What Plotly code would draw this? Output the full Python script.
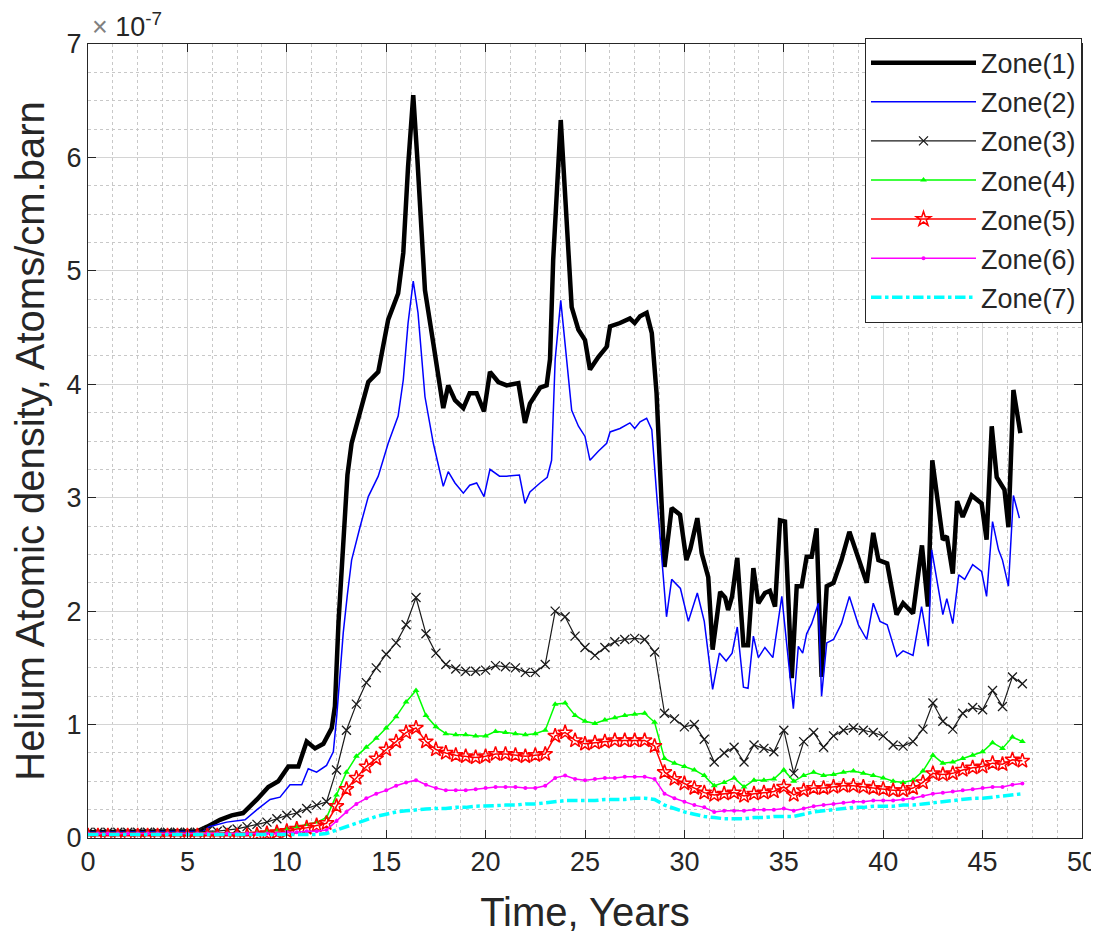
import numpy as np
import plotly.graph_objects as go

SCALE = 1e-7  # values below are in units of 1e-7 atoms/cm.barn

# ---- Zone 1 (irregular sampling) ----
t_zone1 = [0, 5.5, 6.0, 6.64, 7.23, 7.8, 8.5, 9.07, 9.57, 10.08, 10.58, 11.0, 11.42, 11.84,
           12.26, 12.42, 12.6, 12.84, 13.05, 13.26, 13.68, 14.1, 14.6, 15.1, 15.6, 15.86, 16.1,
           16.36, 16.57, 16.95, 17.37, 17.87, 18.12, 18.46, 18.88, 19.2, 19.55, 19.92, 20.22,
           20.64, 21.06, 21.65, 21.98, 22.23, 22.74, 23.07, 23.24, 23.4, 23.78, 24.0, 24.33,
           24.67, 25.0, 25.25, 25.67, 26.09, 26.26, 26.76, 27.26, 27.5, 27.77, 28.1, 28.36,
           28.6, 28.86, 29.0, 29.36, 29.78, 30.1, 30.3, 30.65, 30.87, 31.2, 31.42, 31.8, 32.05,
           32.2, 32.4, 32.66, 32.97, 33.2, 33.47, 33.72, 34.05, 34.3, 34.56, 34.81, 35.06, 35.4,
           35.65, 35.9, 36.15, 36.4, 36.65, 36.9, 37.16, 37.5, 37.9, 38.3, 38.75, 39.17, 39.5,
           39.76, 40.2, 40.67, 41.0, 41.5, 41.95, 42.25, 42.47, 43.0, 43.2, 43.5, 43.72, 44.0,
           44.45, 44.95, 45.2, 45.46, 45.71, 46.1, 46.3, 46.55, 46.9]
zone1 = [0.05, 0.06, 0.10, 0.16, 0.20, 0.22, 0.34, 0.45, 0.50, 0.63, 0.63, 0.85, 0.79, 0.83,
         0.97, 1.16, 1.90, 2.60, 3.20, 3.48, 3.74, 4.02, 4.11, 4.57, 4.80, 5.16, 5.92,
         6.55, 5.98, 4.83, 4.36, 3.79, 3.99, 3.86, 3.79, 3.92, 3.92, 3.76, 4.11,
         4.02, 3.99, 4.01, 3.66, 3.83, 3.97, 3.99, 4.22, 5.10, 6.33, 5.68, 4.68,
         4.48, 4.39, 4.13, 4.24, 4.33, 4.51, 4.54, 4.58, 4.54, 4.60, 4.63, 4.45,
         3.92, 3.04, 2.39, 2.91, 2.85, 2.45, 2.55, 2.82, 2.51, 2.30, 1.66, 2.17, 2.12,
         2.01, 2.13, 2.47, 1.70, 1.70, 2.38, 2.07, 2.16, 2.18, 2.04, 2.80, 2.79, 1.41,
         2.22, 2.22, 2.48, 2.48, 2.73, 1.42, 2.22, 2.25, 2.45, 2.70, 2.48, 2.25, 2.69,
         2.45, 2.42, 1.97, 2.07, 1.98, 2.58, 2.04, 3.33, 2.63, 2.66, 2.33, 2.97, 2.83,
         3.02, 2.95, 2.63, 3.63, 3.18, 3.07, 2.74, 3.95, 3.57]

# ---- Zone 2 (irregular sampling) ----
t_zone2 = [0, 5.8, 6.1, 6.98, 7.9, 8.5, 9.16, 9.66, 10.16, 10.75, 11.08, 11.5, 12.0, 12.34,
           12.51, 12.84, 13.05, 13.26, 13.68, 14.1, 14.6, 15.1, 15.6, 15.86, 16.1, 16.36, 16.6,
           16.95, 17.37, 17.87, 18.12, 18.46, 18.88, 19.2, 19.55, 19.92, 20.22, 20.7, 21.06,
           21.7, 21.98, 22.23, 22.74, 23.1, 23.32, 23.5, 23.78, 24.08, 24.33, 24.67, 25.0,
           25.25, 25.67, 26.09, 26.26, 26.76, 27.26, 27.5, 27.77, 28.1, 28.36, 28.6, 28.86,
           29.1, 29.36, 29.8, 30.2, 30.65, 31.0, 31.42, 31.76, 32.1, 32.4, 32.66, 32.97, 33.2,
           33.47, 33.72, 34.05, 34.45, 34.9, 35.48, 35.73, 35.95, 36.15, 36.4, 36.74, 36.9,
           37.16, 37.5, 37.9, 38.3, 38.75, 39.17, 39.5, 39.84, 40.2, 40.68, 41.0, 41.5, 41.93,
           42.27, 42.44, 43.0, 43.2, 43.5, 43.8, 44.1, 44.5, 44.95, 45.2, 45.5, 45.8, 46.0,
           46.3, 46.55, 46.85]
zone2 = [0.05, 0.06, 0.10, 0.14, 0.16, 0.25, 0.34, 0.36, 0.47, 0.47, 0.61, 0.58, 0.64, 0.76,
         1.07, 1.81, 2.15, 2.45, 2.74, 3.01, 3.19, 3.48, 3.72, 4.04, 4.54, 4.91, 4.63,
         3.89, 3.48, 3.10, 3.23, 3.13, 3.04, 3.11, 3.13, 3.01, 3.25, 3.19, 3.19,
         3.20, 2.95, 3.05, 3.13, 3.18, 3.33, 4.22, 4.74, 4.22, 3.77, 3.63, 3.54,
         3.33, 3.41, 3.48, 3.58, 3.61, 3.66, 3.61, 3.67, 3.70, 3.60, 3.04, 2.45,
         1.95, 2.28, 2.20, 1.91, 2.16, 1.91, 1.31, 1.63, 1.56, 1.63, 1.86, 1.33, 1.32,
         1.78, 1.59, 1.68, 1.59, 2.13, 1.14, 1.69, 1.63, 1.80, 1.89, 2.07, 1.25,
         1.72, 1.75, 1.89, 2.13, 1.88, 1.75, 2.07, 1.91, 1.88, 1.60, 1.65, 1.61, 2.04,
         1.69, 2.54, 1.97, 2.11, 1.89, 2.32, 2.28, 2.41, 2.35, 2.13, 2.79, 2.54, 2.45,
         2.22, 3.02, 2.82]

# ---- Zones 3-7 on a common 0.5-year grid ----
t_grid = [i * 0.5 for i in range(95)]  # 0 ... 47 years

zone3 = [0.05, 0.05, 0.05, 0.05, 0.05, 0.05, 0.05, 0.05, 0.05, 0.05, 0.05, 0.05,
         0.06, 0.06, 0.07, 0.08, 0.10, 0.12, 0.14, 0.17, 0.20, 0.22, 0.26, 0.29, 0.32,
         0.60, 0.95, 1.18, 1.37, 1.50, 1.62, 1.72, 1.88, 2.12, 1.80, 1.63, 1.53, 1.49,
         1.47, 1.47, 1.48, 1.52, 1.51, 1.50, 1.46, 1.46, 1.53, 2.00, 1.95, 1.78, 1.68,
         1.61, 1.68, 1.73, 1.75, 1.76, 1.75, 1.64, 1.10, 1.05, 0.98, 1.00, 0.87, 0.67,
         0.75, 0.80, 0.67, 0.82, 0.79, 0.76, 0.95, 0.57, 0.85, 0.93, 0.80, 0.90, 0.95,
         0.97, 0.95, 0.93, 0.90, 0.82, 0.81, 0.85, 0.96, 1.19, 1.03, 0.96, 1.10, 1.15,
         1.13, 1.30, 1.16, 1.42, 1.36]

zone4 = [0.04, 0.04, 0.04, 0.04, 0.04, 0.04, 0.04, 0.04, 0.04, 0.04, 0.04, 0.04,
         0.04, 0.04, 0.04, 0.04, 0.04, 0.05, 0.06, 0.07, 0.08, 0.10, 0.12, 0.14, 0.18,
         0.38, 0.58, 0.72, 0.80, 0.88, 0.97, 1.07, 1.20, 1.30, 1.08, 0.98, 0.92, 0.91,
         0.91, 0.90, 0.90, 0.94, 0.93, 0.92, 0.91, 0.92, 0.95, 1.18, 1.19, 1.08, 1.03,
         1.01, 1.04, 1.06, 1.08, 1.09, 1.10, 1.02, 0.70, 0.66, 0.63, 0.60, 0.55, 0.46,
         0.49, 0.53, 0.45, 0.51, 0.51, 0.52, 0.60, 0.50, 0.55, 0.58, 0.55, 0.56, 0.58,
         0.59, 0.57, 0.55, 0.53, 0.50, 0.49, 0.51, 0.59, 0.73, 0.66, 0.67, 0.70, 0.73,
         0.76, 0.84, 0.79, 0.89, 0.85]

zone5 = [0.02, 0.02, 0.02, 0.02, 0.02, 0.02, 0.02, 0.02, 0.02, 0.02, 0.02, 0.02,
         0.02, 0.02, 0.02, 0.02, 0.02, 0.03, 0.04, 0.05, 0.06, 0.08, 0.09, 0.11, 0.13,
         0.28, 0.43, 0.53, 0.63, 0.70, 0.78, 0.85, 0.93, 0.97, 0.85, 0.78, 0.75, 0.73,
         0.72, 0.71, 0.72, 0.74, 0.74, 0.73, 0.72, 0.73, 0.74, 0.90, 0.93, 0.86, 0.83,
         0.84, 0.85, 0.86, 0.86, 0.86, 0.86, 0.81, 0.58, 0.52, 0.48, 0.44, 0.40, 0.38,
         0.39, 0.40, 0.37, 0.39, 0.40, 0.41, 0.45, 0.38, 0.42, 0.44, 0.44, 0.45, 0.46,
         0.46, 0.45, 0.44, 0.43, 0.42, 0.42, 0.44, 0.49, 0.57, 0.56, 0.57, 0.60, 0.62,
         0.63, 0.66, 0.65, 0.69, 0.68]

zone6 = [0.04, 0.04, 0.04, 0.04, 0.04, 0.04, 0.04, 0.04, 0.04, 0.04, 0.04, 0.04,
         0.04, 0.04, 0.04, 0.04, 0.04, 0.04, 0.04, 0.04, 0.05, 0.05, 0.06, 0.06, 0.07,
         0.15, 0.23, 0.30, 0.35, 0.39, 0.42, 0.46, 0.49, 0.51, 0.47, 0.44, 0.42, 0.42,
         0.42, 0.43, 0.44, 0.45, 0.45, 0.45, 0.44, 0.44, 0.46, 0.53, 0.55, 0.52, 0.51,
         0.52, 0.53, 0.53, 0.54, 0.54, 0.54, 0.52, 0.39, 0.35, 0.32, 0.29, 0.27, 0.23,
         0.24, 0.24, 0.24, 0.25, 0.25, 0.25, 0.26, 0.24, 0.26, 0.28, 0.29, 0.30, 0.31,
         0.32, 0.32, 0.33, 0.33, 0.33, 0.34, 0.35, 0.37, 0.39, 0.40, 0.41, 0.42, 0.43,
         0.44, 0.45, 0.45, 0.47, 0.48]

zone7 = [0.03, 0.03, 0.03, 0.03, 0.03, 0.03, 0.03, 0.03, 0.03, 0.03, 0.03, 0.03,
         0.03, 0.03, 0.03, 0.03, 0.03, 0.03, 0.03, 0.03, 0.03, 0.03, 0.03, 0.03, 0.04,
         0.07, 0.10, 0.13, 0.16, 0.19, 0.21, 0.23, 0.24, 0.25, 0.255, 0.26, 0.26, 0.27,
         0.27, 0.28, 0.28, 0.285, 0.29, 0.29, 0.30, 0.30, 0.31, 0.32, 0.33, 0.33, 0.33,
         0.33, 0.34, 0.34, 0.34, 0.35, 0.35, 0.34, 0.29, 0.26, 0.23, 0.21, 0.19, 0.18,
         0.17, 0.17, 0.17, 0.18, 0.18, 0.19, 0.19, 0.19, 0.21, 0.23, 0.24, 0.25, 0.26,
         0.27, 0.27, 0.28, 0.28, 0.28, 0.29, 0.29, 0.30, 0.31, 0.32, 0.33, 0.34, 0.35,
         0.35, 0.36, 0.37, 0.38, 0.39]

zone_names = ["Zone(1)", "Zone(2)", "Zone(3)", "Zone(4)", "Zone(5)", "Zone(6)", "Zone(7)"]
x_ticks = [0, 5, 10, 15, 20, 25, 30, 35, 40, 45, 50]
y_ticks = [0, 1, 2, 3, 4, 5, 6, 7]

FONT = "Liberation Sans, Arial, sans-serif"


def sc(v):
    return np.array(v) * SCALE


fig = go.Figure()

fig.add_trace(go.Scatter(x=t_zone1, y=sc(zone1), mode="lines", name=zone_names[0],
                         legendgroup="z1", line=dict(color="black", width=4.5)))
fig.add_trace(go.Scatter(x=t_zone2, y=sc(zone2), mode="lines", name=zone_names[1],
                         legendgroup="z2", line=dict(color="#0000ff", width=1.5)))
fig.add_trace(go.Scatter(x=t_grid, y=sc(zone3), mode="lines+markers", name=zone_names[2],
                         legendgroup="z3", line=dict(color="#1a1a1a", width=1.2),
                         marker=dict(symbol="x-thin-open", size=9, color="#1a1a1a",
                                     line=dict(color="#1a1a1a", width=1.3))))
fig.add_trace(go.Scatter(x=t_grid, y=sc(zone4), mode="lines+markers", name=zone_names[3],
                         legendgroup="z4", line=dict(color="#00ff00", width=1.5),
                         marker=dict(symbol="triangle-up", size=6, color="#00ff00")))
fig.add_trace(go.Scatter(x=t_grid, y=sc(zone5), mode="lines+markers", name=zone_names[4],
                         legendgroup="z5", line=dict(color="#ff0000", width=1.5),
                         marker=dict(symbol="star-open", size=11, color="#ff0000",
                                     line=dict(color="#ff0000", width=1.5))))
fig.add_trace(go.Scatter(x=t_grid, y=sc(zone6), mode="lines+markers", name=zone_names[5],
                         legendgroup="z6", line=dict(color="#ff00ff", width=1.5),
                         marker=dict(symbol="circle", size=4, color="#ff00ff")))
fig.add_trace(go.Scatter(x=t_grid, y=sc(zone7), mode="lines", name=zone_names[6],
                         legendgroup="z7", line=dict(color="#00ffff", width=3.5, dash="dashdot")))

axis_common = dict(
    showline=True, linecolor="#262626", linewidth=1, mirror="ticks",
    ticks="inside", ticklen=8, tickcolor="#262626",
    showgrid=True, gridcolor="#d4d4d4", gridwidth=1,
    zeroline=False, automargin=False,
    tickfont=dict(family=FONT, size=27, color="#262626"),
)

fig.update_xaxes(
    range=[0, 50], tickvals=x_ticks, ticktext=[str(v) for v in x_ticks],
    minor=dict(dtick=1.25, tick0=0, showgrid=True, gridcolor="#c8c8c8", griddash="dot",
               gridwidth=1, ticks=""),
    title=dict(text="Time, Years", standoff=21,
               font=dict(family=FONT, size=40, color="#262626")),
    **axis_common)

fig.update_yaxes(
    range=[0, 7 * SCALE], tickvals=[v * SCALE for v in y_ticks], ticktext=[str(v) for v in y_ticks],
    minor=dict(dtick=0.25 * SCALE, tick0=0, showgrid=True, gridcolor="#c8c8c8", griddash="dot",
               gridwidth=1, ticks=""),
    title=dict(text="Helium Atomic density, Atoms/cm.barn", standoff=15,
               font=dict(family=FONT, size=40, color="#262626")),
    **axis_common)

fig.add_annotation(xref="paper", yref="paper", x=0.0, y=1.0, xanchor="left", yanchor="bottom",
                   text="<span style='color:#808080'>×</span> 10<sup>-7</sup>", showarrow=False,
                   xshift=2, yshift=0,
                   font=dict(family=FONT, size=27, color="#262626"))

# The page body adds an 8 px margin, so the figure is sized/positioned to compensate.
fig.update_layout(
    width=1091, height=927,
    margin=dict(l=80, r=17, t=36, b=97),
    paper_bgcolor="white", plot_bgcolor="white",
    showlegend=True,
    legend=dict(x=1.0, y=1.008, xanchor="right", yanchor="top",
                bgcolor="white", bordercolor="#262626", borderwidth=1,
                font=dict(family=FONT, size=27, color="#262626"),
                traceorder="grouped",
                itemwidth=105, tracegroupgap=1),
)

fig.write_html("out.html")
